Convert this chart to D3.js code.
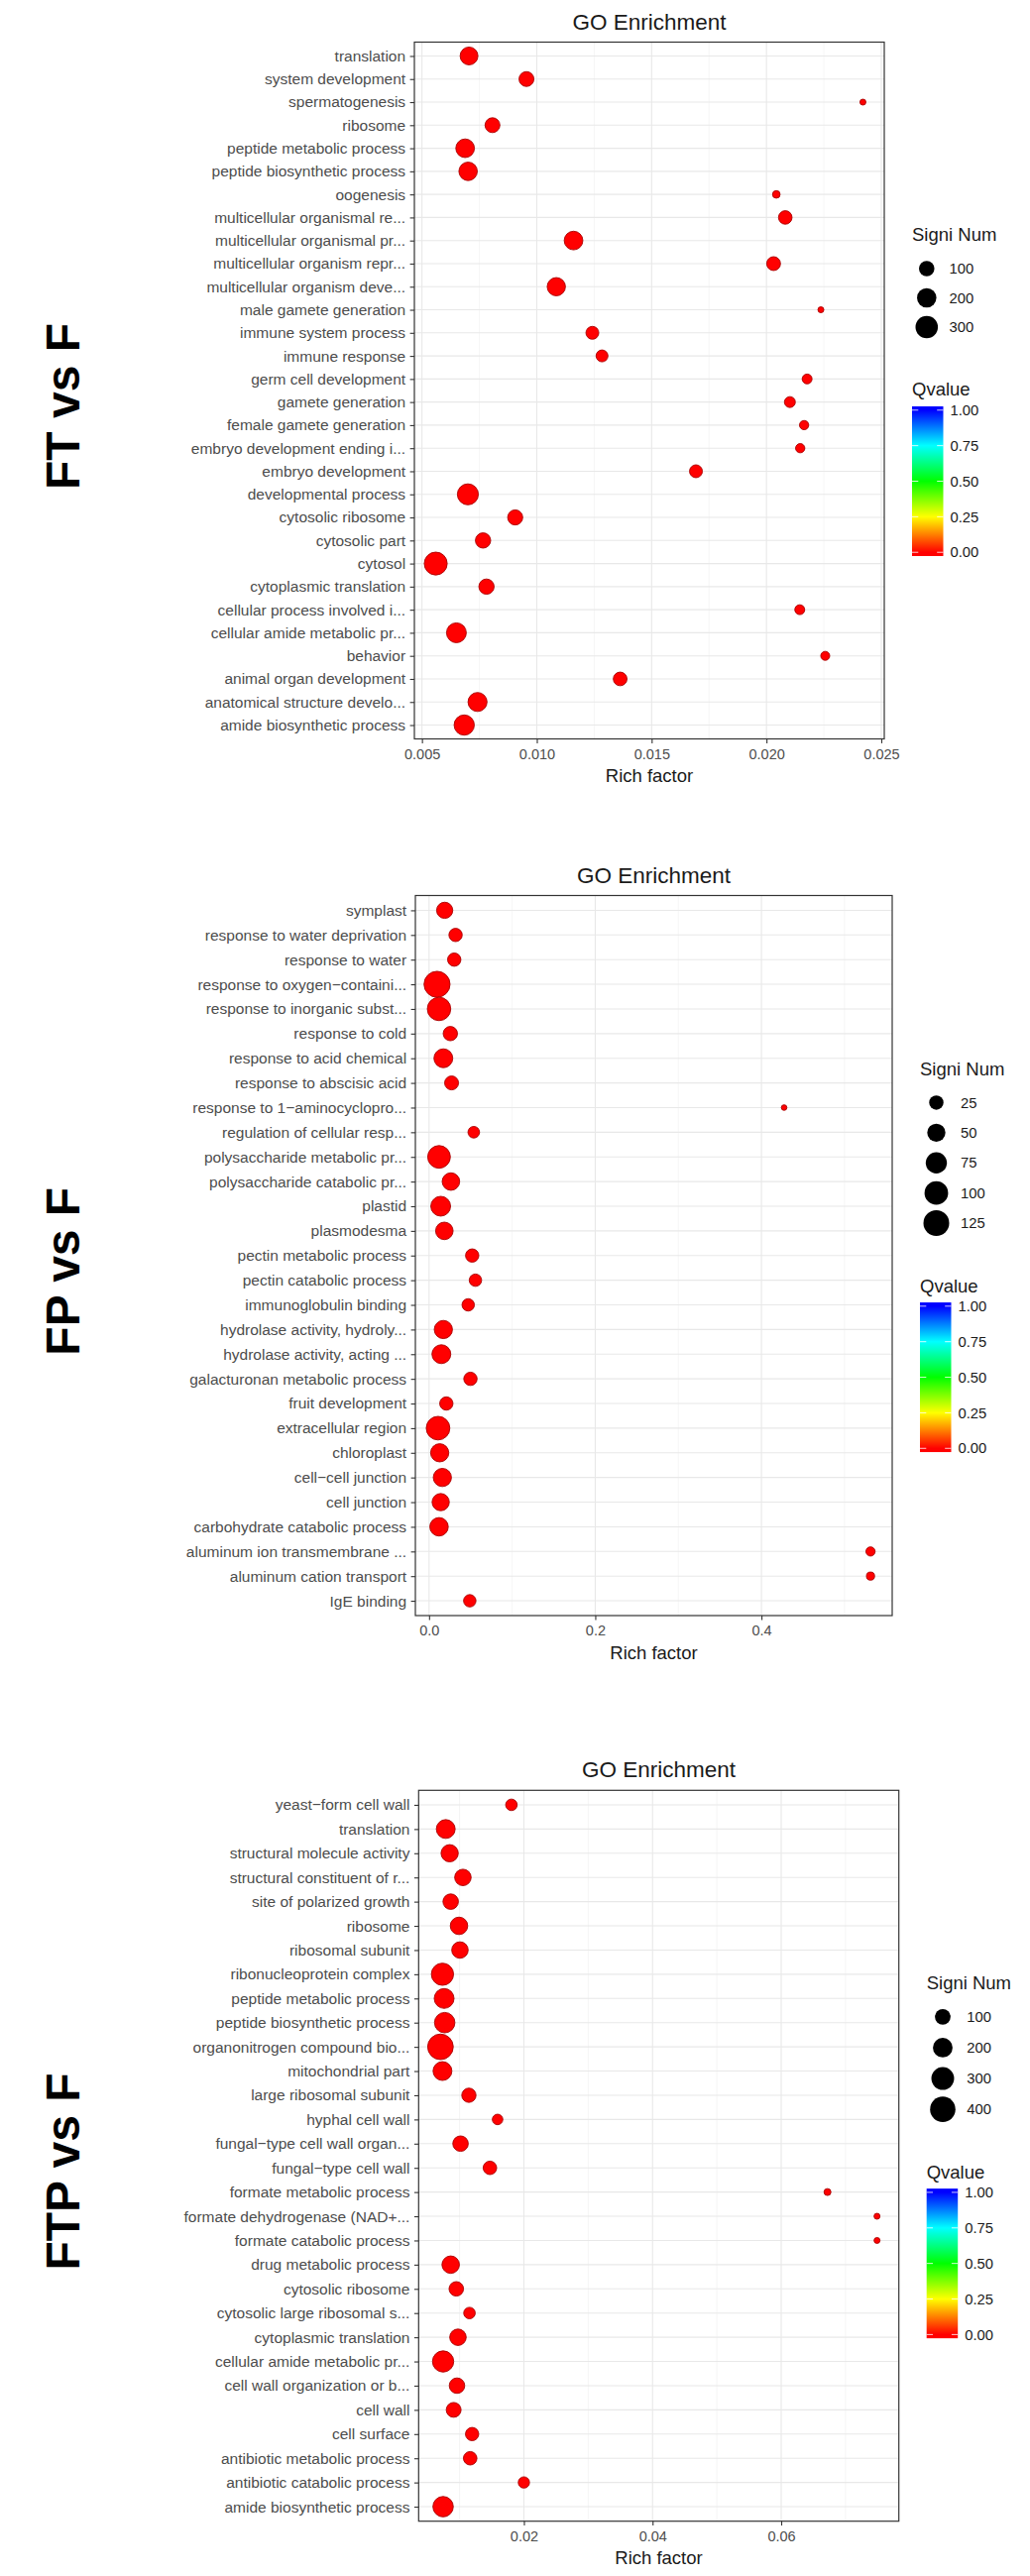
<!DOCTYPE html>
<html>
<head>
<meta http-equiv="Content-Type" content="text/html;charset=utf-8">
<title>GO Enrichment</title>
<script src="https://d3js.org/d3.v7.min.js"></script>
<style>
  html, body {
    margin: 0;
    padding: 0;
    background: #ffffff;
  }
  text {
    font-family: "Liberation Sans", Arial, Helvetica, sans-serif;
  }
</style>
</head>
<body>
<script type="text/javascript">

// ---------- FT vs F ----------
let ftTerms = [
  "translation", "system development", "spermatogenesis", "ribosome",
  "peptide metabolic process", "peptide biosynthetic process", "oogenesis",
  "multicellular organismal re...", "multicellular organismal pr...",
  "multicellular organism repr...", "multicellular organism deve...",
  "male gamete generation", "immune system process", "immune response",
  "germ cell development", "gamete generation", "female gamete generation",
  "embryo development ending i...", "embryo development", "developmental process",
  "cytosolic ribosome", "cytosolic part", "cytosol", "cytoplasmic translation",
  "cellular process involved i...", "cellular amide metabolic pr...", "behavior",
  "animal organ development", "anatomical structure develo...", "amide biosynthetic process"
];
let ftRich = [
  0.00705, 0.00955, 0.0242, 0.00807, 0.00688, 0.00701, 0.02043,
  0.02082, 0.0116, 0.02031, 0.01085, 0.02237, 0.01242, 0.01284,
  0.02177, 0.02102, 0.02164, 0.02147, 0.01693, 0.0070,
  0.00906, 0.00766, 0.0056, 0.00781, 0.02145, 0.0065, 0.02256,
  0.01363, 0.00742, 0.00684
];
let ftNum = [
  157, 89, 1, 89, 179, 173, 4,
  64, 179, 70, 168, 1, 54, 40,
  18, 28, 13, 13, 54, 251,
  93, 97, 320, 97, 18, 214, 11,
  67, 190, 226
];
let ftQ = [
  0, 0, 0, 0, 0, 0, 0, 0, 0, 0, 0, 0, 0, 0, 0,
  0, 0, 0, 0, 0, 0, 0, 0, 0, 0, 0, 0, 0, 0, 0
];
let ftTicks = [0.005, 0.010, 0.015, 0.020, 0.025];
let ftSizeBreaks = [100, 200, 300];

// ---------- FP vs F ----------
let fpTerms = [
  "symplast", "response to water deprivation", "response to water",
  "response to oxygen\u2212containi...", "response to inorganic subst...",
  "response to cold", "response to acid chemical", "response to abscisic acid",
  "response to 1\u2212aminocyclopro...", "regulation of cellular resp...",
  "polysaccharide metabolic pr...", "polysaccharide catabolic pr...",
  "plastid", "plasmodesma", "pectin metabolic process", "pectin catabolic process",
  "immunoglobulin binding", "hydrolase activity, hydroly...", "hydrolase activity, acting ...",
  "galacturonan metabolic process", "fruit development", "extracellular region",
  "chloroplast", "cell\u2212cell junction", "cell junction", "carbohydrate catabolic process",
  "aluminum ion transmembrane ...", "aluminum cation transport", "IgE binding"
];
let fpRich = [
  0.0188, 0.0319, 0.0303, 0.0096, 0.0120, 0.0256, 0.0172, 0.0271,
  0.4273, 0.0538, 0.0120, 0.0263, 0.0140, 0.0184, 0.0519, 0.0558,
  0.0471, 0.0172, 0.0148, 0.0498, 0.0208, 0.0108, 0.0128, 0.0160,
  0.0140, 0.0120, 0.5313, 0.5313, 0.0490
];
let fpNum = [
  36, 20, 20, 128, 98, 25, 55, 23,
  2, 13, 90, 45, 63, 45, 20, 16,
  16, 50, 55, 20, 20, 100, 50, 50,
  43, 52, 6, 4, 16
];
let fpQ = [
  0, 0, 0, 0, 0, 0, 0, 0, 0, 0, 0, 0, 0, 0, 0,
  0, 0, 0, 0, 0, 0, 0, 0, 0, 0, 0, 0, 0, 0
];
let fpTicks = [0.0, 0.2, 0.4];
let fpSizeBreaks = [25, 50, 75, 100, 125];

// ---------- FTP vs F ----------
let ftpTerms = [
  "yeast\u2212form cell wall", "translation", "structural molecule activity",
  "structural constituent of r...", "site of polarized growth", "ribosome",
  "ribosomal subunit", "ribonucleoprotein complex", "peptide metabolic process",
  "peptide biosynthetic process", "organonitrogen compound bio...", "mitochondrial part",
  "large ribosomal subunit", "hyphal cell wall", "fungal\u2212type cell wall organ...",
  "fungal\u2212type cell wall", "formate metabolic process", "formate dehydrogenase (NAD+...",
  "formate catabolic process", "drug metabolic process", "cytosolic ribosome",
  "cytosolic large ribosomal s...", "cytoplasmic translation", "cellular amide metabolic pr...",
  "cell wall organization or b...", "cell wall", "cell surface",
  "antibiotic metabolic process", "antibiotic catabolic process", "amide biosynthetic process"
];
let ftpRich = [
  0.01806, 0.00785, 0.00846, 0.01052, 0.00862, 0.00991, 0.01006, 0.00734,
  0.0076, 0.00769, 0.00703, 0.00734, 0.01145, 0.01591, 0.01015, 0.01472,
  0.0672, 0.0749, 0.0749, 0.00862, 0.00949, 0.01154, 0.00975, 0.00744,
  0.0096, 0.00908, 0.01195, 0.01165, 0.0200, 0.00744
];
let ftpNum = [
  34, 177, 136, 118, 97, 141, 118, 281,
  205, 223, 410, 177, 74, 23, 97, 61,
  2, 1, 1, 141, 78, 34, 118, 248,
  97, 85, 58, 61, 31, 223
];
let ftpQ = [
  0, 0, 0, 0, 0, 0, 0, 0, 0, 0, 0, 0, 0, 0, 0,
  0, 0, 0, 0, 0, 0, 0, 0, 0, 0, 0, 0, 0, 0, 0
];
let ftpTicks = [0.02, 0.04, 0.06];
let ftpSizeBreaks = [100, 200, 300, 400];

// Qvalue colour bar
let qBreaks = [0.00, 0.25, 0.50, 0.75, 1.00];
let qColors = ["#ff0000", "#ffff00", "#00ff00", "#00ffff", "#0000ff"];

// layout of the three stacked plots (pixels)
let panels = [
  {label: "FT vs F", terms: ftTerms, rich: ftRich, num: ftNum, q: ftQ,
   ticks: ftTicks, fmt: ".3f", sizeBreaks: ftSizeBreaks,
   left: 418, right: 892, top: 42.5, bottom: 745.5, rRange: [3, 11.57], keyStep: 29.5},
  {label: "FP vs F", terms: fpTerms, rich: fpRich, num: fpNum, q: fpQ,
   ticks: fpTicks, fmt: ".1f", sizeBreaks: fpSizeBreaks,
   left: 419, right: 900, top: 903.5, bottom: 1630, rRange: [2.8, 13.13], keyStep: 30.4},
  {label: "FTP vs F", terms: ftpTerms, rich: ftpRich, num: ftpNum, q: ftpQ,
   ticks: ftpTicks, fmt: ".2f", sizeBreaks: ftpSizeBreaks,
   left: 422.3, right: 906.7, top: 1806.3, bottom: 2543.7, rRange: [3, 12.91], keyStep: 31.1}
];

let W = 1039, H = 2599;

let svg = d3.select("body").append("svg")
  .attr("width", W)
  .attr("height", H)
  .style("display", "block");

svg.append("rect")
  .attr("width", W)
  .attr("height", H)
  .attr("fill", "#ffffff");

let qColor = d3.scaleLinear()
  .domain(qBreaks)
  .range(qColors)
  .interpolate(d3.interpolateRgb);

panels.forEach(function(p, idx) {

  let g = svg.append("g").attr("class", "panel");

  // x range gets 5% padding each side, like ggplot
  let lo = d3.min(p.rich), hi = d3.max(p.rich);
  let pad = (hi - lo) * 0.05;
  let x = d3.scaleLinear()
    .domain([lo - pad, hi + pad])
    .range([p.left, p.right]);

  let y = d3.scalePoint()
    .domain(p.terms)
    .range([p.top, p.bottom])
    .padding(0.6);

  let nMin = d3.min(p.num), nMax = d3.max(p.num);
  let size = d3.scaleSqrt()
    .domain([0, nMax - nMin])
    .range(p.rRange);

  // minor grid: half way between the breaks
  let step = p.ticks[1] - p.ticks[0];
  let minors = [p.ticks[0] - step / 2];
  p.ticks.forEach(function(t) { minors.push(t + step / 2); });
  minors = minors.filter(function(m) { return m > x.domain()[0] && m < x.domain()[1]; });

  g.selectAll(".minor")
    .data(minors)
    .enter().append("line")
    .attr("x1", function(d) { return x(d); })
    .attr("x2", function(d) { return x(d); })
    .attr("y1", p.top).attr("y2", p.bottom)
    .attr("stroke", "#f1f1f1")
    .attr("stroke-width", 0.7);

  g.selectAll(".vmajor")
    .data(p.ticks)
    .enter().append("line")
    .attr("x1", function(d) { return x(d); })
    .attr("x2", function(d) { return x(d); })
    .attr("y1", p.top).attr("y2", p.bottom)
    .attr("stroke", "#e8e8e8")
    .attr("stroke-width", 1.1);

  g.selectAll(".hmajor")
    .data(p.terms)
    .enter().append("line")
    .attr("x1", p.left).attr("x2", p.right)
    .attr("y1", function(d) { return y(d); })
    .attr("y2", function(d) { return y(d); })
    .attr("stroke", "#e8e8e8")
    .attr("stroke-width", 1.1);

  // points
  g.selectAll(".dot")
    .data(p.terms)
    .enter().append("circle")
    .attr("cx", function(d, i) { return x(p.rich[i]); })
    .attr("cy", function(d) { return y(d); })
    .attr("r", function(d, i) { return size(p.num[i] - nMin); })
    .attr("fill", function(d, i) { return qColor(p.q[i]); })
    .attr("stroke", "#a80000")
    .attr("stroke-width", 0.9);

  // panel border
  g.append("rect")
    .attr("x", p.left).attr("y", p.top)
    .attr("width", p.right - p.left)
    .attr("height", p.bottom - p.top)
    .attr("fill", "none")
    .attr("stroke", "#333333")
    .attr("stroke-width", 1.2);

  // axes
  let xAxis = g.append("g")
    .attr("transform", "translate(0," + p.bottom + ")")
    .call(d3.axisBottom(x).tickValues(p.ticks).tickFormat(d3.format(p.fmt))
      .tickSize(4.4).tickSizeOuter(0).tickPadding(5.5));

  let yAxis = g.append("g")
    .attr("transform", "translate(" + p.left + ",0)")
    .call(d3.axisLeft(y).tickSize(4.4).tickSizeOuter(0).tickPadding(4.5));

  [xAxis, yAxis].forEach(function(a) {
    a.select(".domain").remove();
    a.selectAll(".tick line").attr("stroke", "#333333").attr("stroke-width", 1.1);
    a.selectAll(".tick text")
      .attr("fill", "#4d4d4d")
      .style("font-family", "'Liberation Sans', Arial, sans-serif");
  });
  xAxis.selectAll(".tick text").style("font-size", "14.5px");
  yAxis.selectAll(".tick text").style("font-size", "15.5px");

  let cx = (p.left + p.right) / 2;

  g.append("text")
    .attr("x", cx).attr("y", p.top - 13)
    .attr("text-anchor", "middle")
    .style("font-size", "22.5px")
    .attr("fill", "#1a1a1a")
    .text("GO Enrichment");

  g.append("text")
    .attr("x", cx).attr("y", p.bottom + 43.5)
    .attr("text-anchor", "middle")
    .style("font-size", "18.5px")
    .attr("fill", "#1a1a1a")
    .text("Rich factor");

  // big comparison label on the left
  let midY = (p.top + p.bottom) / 2 + 16;
  g.append("text")
    .attr("transform", "translate(63," + midY + ") rotate(-90)")
    .attr("text-anchor", "middle")
    .attr("dy", "0.36em")
    .style("font-size", "48px")
    .style("font-weight", "bold")
    .attr("fill", "#000")
    .text(p.label);

  // ----- legends -----
  let x0 = p.right + 28;
  let k = p.sizeBreaks.length;
  let T = (p.top + p.bottom) / 2 - (255 + (k - 1) * p.keyStep) / 2;
  let rKey = size(d3.max(p.sizeBreaks) - nMin);

  g.append("text")
    .attr("x", x0).attr("y", T).attr("dy", "0.35em")
    .style("font-size", "18.5px")
    .attr("fill", "#1a1a1a")
    .text("Signi Num");

  p.sizeBreaks.forEach(function(b, i) {
    let ky = T + 34 + i * p.keyStep;
    g.append("circle")
      .attr("cx", x0 + rKey + 3.5).attr("cy", ky)
      .attr("r", size(b - nMin))
      .attr("fill", "#000");
    g.append("text")
      .attr("x", x0 + 2 * rKey + 15).attr("y", ky).attr("dy", "0.35em")
      .style("font-size", "14.8px")
      .attr("fill", "#1a1a1a")
      .text(b);
  });

  let qTitleY = T + 34 + (k - 1) * p.keyStep + 63;
  g.append("text")
    .attr("x", x0).attr("y", qTitleY).attr("dy", "0.35em")
    .style("font-size", "18.5px")
    .attr("fill", "#1a1a1a")
    .text("Qvalue");

  let barY = qTitleY + 17, barH = 151, barW = 31.5;
  let grad = svg.append("defs").append("linearGradient")
    .attr("id", "qgrad" + idx)
    .attr("x1", 0).attr("y1", 1).attr("x2", 0).attr("y2", 0);
  grad.append("stop").attr("offset", 0).attr("stop-color", qColor(0));
  d3.range(0, 1.0001, 0.05).forEach(function(v) {
    grad.append("stop")
      .attr("offset", 1 / 40 + v * 19 / 20)
      .attr("stop-color", qColor(v));
  });
  grad.append("stop").attr("offset", 1).attr("stop-color", qColor(1));

  g.append("rect")
    .attr("x", x0).attr("y", barY)
    .attr("width", barW).attr("height", barH)
    .attr("fill", "url(#qgrad" + idx + ")");

  let qy = d3.scaleLinear()
    .domain([0, 1])
    .range([barY + barH - barH / 40, barY + barH / 40]);

  qBreaks.forEach(function(b) {
    [[x0, x0 + barW / 5], [x0 + barW - barW / 5, x0 + barW]].forEach(function(s) {
      g.append("line")
        .attr("x1", s[0]).attr("x2", s[1])
        .attr("y1", qy(b)).attr("y2", qy(b))
        .attr("stroke", "#ffffff")
        .attr("stroke-opacity", 0.8)
        .attr("stroke-width", 1);
    });
    g.append("text")
      .attr("x", x0 + 38.5).attr("y", qy(b)).attr("dy", "0.35em")
      .style("font-size", "14.8px")
      .attr("fill", "#1a1a1a")
      .text(d3.format(".2f")(b));
  });

});

</script>
</body>
</html>
